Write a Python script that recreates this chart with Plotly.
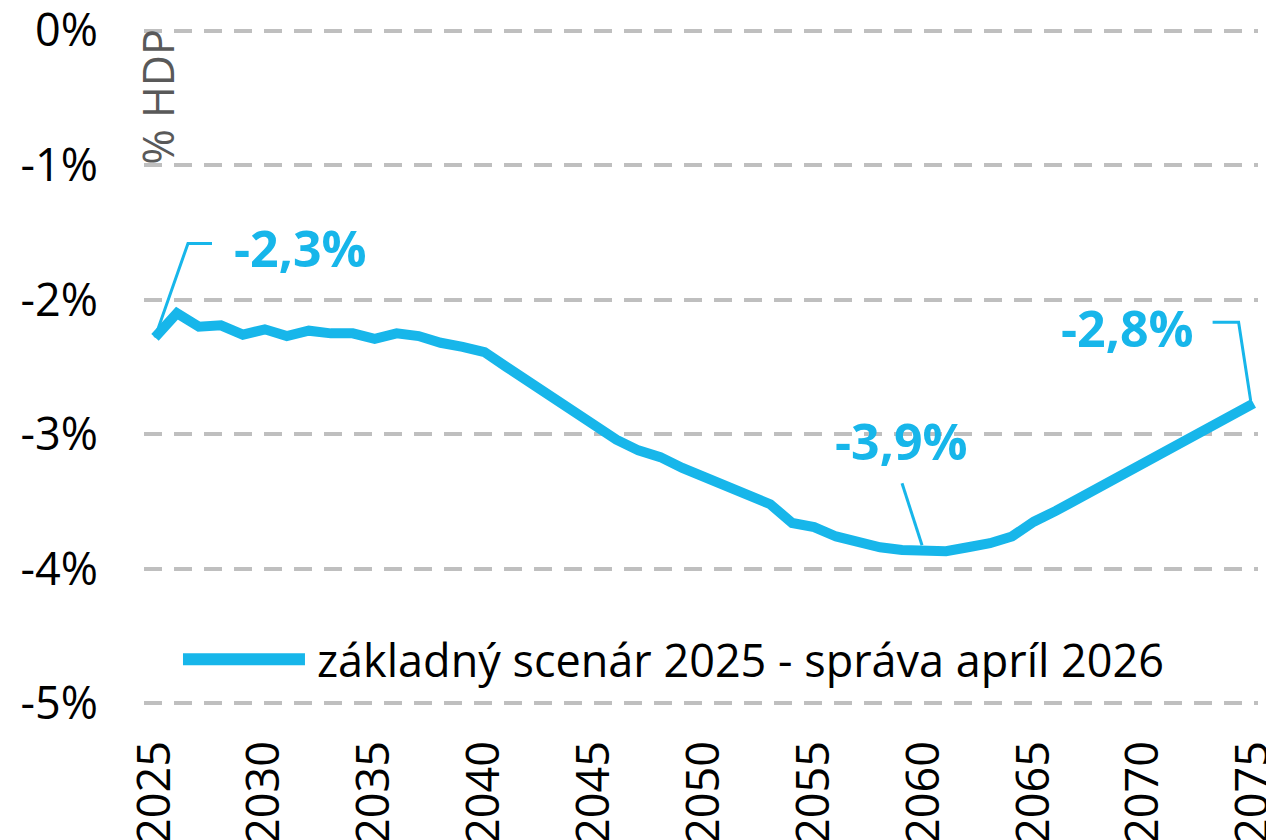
import plotly.graph_objects as go

years = list(range(2025, 2076))
deficit = [
    -2.28, -2.10, -2.20, -2.19, -2.26, -2.22, -2.27, -2.23, -2.25, -2.25,
    -2.29, -2.25, -2.27, -2.32, -2.35, -2.39, -2.50, -2.61, -2.72, -2.83,
    -2.94, -3.04, -3.12, -3.17, -3.25, -3.32, -3.39, -3.46, -3.52, -3.66,
    -3.69, -3.76, -3.80, -3.84, -3.86, -3.87, -3.87, -3.84, -3.81, -3.76,
    -3.65, -3.57, -3.48, -3.40, -3.31, -3.23, -3.14, -3.03, -2.95, -2.87,
    -2.77,
]
series_name = "základný scenár 2025 - správa apríl 2026"

y_ticks = [0, -1, -2, -3, -4, -5]
y_labels = ["0%", "-1%", "-2%", "-3%", "-4%", "-5%"]
x_ticks = list(range(2025, 2076, 5))
x_labels = [str(y) for y in x_ticks]

# callouts: (index into data, label)
callouts = [(0, "-2,3%"), (35, "-3,9%"), (50, "-2,8%")]

BLUE = "#17B6EA"
FONT = "Open Sans"

fig = go.Figure()

fig.add_trace(
    go.Scatter(
        x=years,
        y=deficit,
        mode="lines",
        name=series_name,
        line=dict(width=10, color=BLUE),
        showlegend=False,
    )
)

# leader lines in pixels relative to data point (y up), text offsets
leader_paths = ["M0,0 L33,94 L57,94", "M-2,6 L-22,68", "M-3,3 L-15,81 L-41,81"]
text_pos = [(77, 89, "left"), (-23, 110, "center"), (-58, 75, "right")]

for (idx, label), path, (dx, dy, anchor) in zip(callouts, leader_paths, text_pos):
    fig.add_shape(
        type="path",
        xref="x",
        yref="y",
        xsizemode="pixel",
        ysizemode="pixel",
        xanchor=years[idx],
        yanchor=deficit[idx],
        path=path,
        line=dict(color=BLUE, width=3),
    )
    fig.add_annotation(
        x=years[idx],
        y=deficit[idx],
        text=f"<b>{label}</b>",
        showarrow=False,
        xshift=dx,
        yshift=dy,
        xanchor=anchor,
        yanchor="middle",
        font=dict(family=FONT, size=50, color=BLUE),
    )

# osový popis
fig.add_annotation(
    x=2025.14,
    y=-0.49,
    xref="x",
    yref="y",
    text="% HDP",
    textangle=-90,
    showarrow=False,
    font=dict(family=FONT, size=43, color="#595959"),
)

# legenda
fig.add_shape(
    type="line",
    xref="paper",
    yref="paper",
    x0=0.035,
    x1=0.1445,
    y0=0.074,
    y1=0.074,
    line=dict(color=BLUE, width=12),
)
fig.add_annotation(
    x=0.1535,
    y=0.074,
    xref="paper",
    yref="paper",
    text=series_name,
    showarrow=False,
    xanchor="left",
    yanchor="middle",
    font=dict(family=FONT, size=45, color="#000000"),
)

fig.update_xaxes(
    range=[2024.5, 2075.2],
    tickvals=x_ticks,
    ticktext=x_labels,
    tickangle=-90,
    showgrid=False,
    zeroline=False,
    showline=False,
    ticks="",
    automargin=False,
    ticklabeloverflow="allow",
    ticklabelstandoff=21,
    tickfont=dict(family=FONT, size=45, color="#000000"),
)
fig.update_yaxes(
    range=[-5.05, 0.05],
    tickvals=y_ticks,
    ticktext=y_labels,
    showgrid=True,
    gridcolor="#BFBFBF",
    gridwidth=4,
    griddash="18px,12px",
    zeroline=False,
    showline=False,
    ticks="",
    automargin=False,
    ticklabeloverflow="allow",
    ticklabelstandoff=45,
    tickfont=dict(family=FONT, size=45, color="#000000"),
)

# stránka má okraj 8 px, preto posun okrajov
fig.update_layout(
    template="none",
    width=1274,
    height=840,
    margin=dict(l=136, r=24, t=16, b=138),
    plot_bgcolor="white",
    paper_bgcolor="white",
    showlegend=False,
)

fig.write_html("out.html")
